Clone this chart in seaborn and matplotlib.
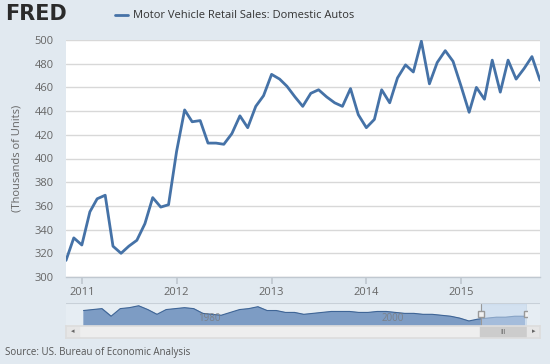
import numpy as np
import pandas as pd
import matplotlib
matplotlib.use("Agg")
import matplotlib.pyplot as plt
import matplotlib.dates as mdates
import seaborn as sns

# ---- data ----
start_month = "2010-11-01"
sales = [314, 333, 327, 355, 366, 369, 326, 320, 326, 331, 345, 367, 359, 361,
         406, 441, 431, 432, 413, 413, 412, 421, 436, 426, 444, 453,
         471, 467, 461, 452, 444, 455, 458, 452, 447, 444, 459, 437,
         426, 433, 458, 447, 468, 479, 473, 499, 463, 481, 491, 482,
         461, 439, 460, 450, 483, 456, 483, 467, 476, 486, 466]
year_ticks = ["2011", "2012", "2013", "2014", "2015"]
y_ticks = [300, 320, 340, 360, 380, 400, 420, 440, 460, 480, 500]

nav_years = list(range(1967, 2016))
nav_values = [690, 725, 760, 480, 760, 795, 865, 725, 550, 725, 760, 795, 760,
              585, 550, 515, 620, 725, 760, 830, 690, 690, 620, 620, 550, 585,
              620, 655, 655, 655, 620, 620, 655, 655, 620, 585, 585, 550, 550,
              515, 480, 410, 305, 375, 410, 445, 445, 480, 480]
nav_labels = ["1980", "2000"]

series_name = "Motor Vehicle Retail Sales: Domestic Autos"
ylabel = "(Thousands of Units)"
source = "Source: US. Bureau of Economic Analysis"

dates = pd.date_range(start_month, periods=len(sales), freq="MS")
df = pd.DataFrame({"date": dates, "sales": sales})
nav_df = pd.DataFrame({"date": pd.to_datetime([f"{y}-07-01" for y in nav_years]),
                       "value": nav_values})

# ---- style ----
sns.set_theme(style="white")
plt.rcParams["font.family"] = ["Open Sans", "DejaVu Sans"]
BG = "#e1e9f0"
LINE = "#4572a7"
TXT = "#666666"

fig = plt.figure(figsize=(5.5, 3.64), dpi=100, facecolor=BG)
W, H = 550, 364

def box(x0, y0, x1, y1):
    return [x0 / W, 1 - y1 / H, (x1 - x0) / W, (y1 - y0) / H]

# main axes
ax = fig.add_axes(box(66, 40, 540, 277))
ax.set_facecolor("white")
sns.lineplot(data=df, x="date", y="sales", ax=ax, color=LINE, linewidth=2.0)
ax.set_xlim(dates[0], dates[-1])
ax.set_ylim(300, 500)
ax.set_yticks(y_ticks)
ax.set_yticklabels([str(v) for v in y_ticks], fontsize=8, color=TXT)
ax.yaxis.grid(True, color="#d8d8d8", linewidth=1)
ax.set_axisbelow(True)
xt = pd.to_datetime([f"{y}-01-01" for y in year_ticks])
ax.set_xticks(xt)
ax.set_xticklabels(year_ticks, fontsize=8, color=TXT)
ax.tick_params(axis="x", length=5, color="#c0c8d0", pad=2, bottom=True)
ax.tick_params(axis="y", length=0, pad=9)
ax.set_xlabel("")
ax.set_ylabel("")
for s in ["top", "right", "left"]:
    ax.spines[s].set_visible(False)
ax.spines["bottom"].set_color("#c0c8d0")
ax.spines["bottom"].set_linewidth(1)
fig.text(17 / W, 1 - 158 / H, ylabel, rotation=90, ha="center", va="center",
         fontsize=8, color=TXT)

# header
fig.text(5 / W, 1 - 14 / H, "FRED", fontsize=15, fontweight="heavy",
         color="#2b2b2b", va="center", ha="left", family=["DejaVu Sans"])
fig.lines.append(plt.Line2D([115 / W, 128 / W], [1 - 15 / H, 1 - 15 / H],
                            color=LINE, linewidth=2, transform=fig.transFigure))
fig.text(133 / W, 1 - 15 / H, series_name, fontsize=8, color="#333333",
         va="center", ha="left")

# navigator background
nb = fig.add_axes(box(66, 303, 540, 326))
nb.set_facecolor("#e6edf3")
nb.set_xticks([]); nb.set_yticks([])
for s in nb.spines.values():
    s.set_visible(False)
nb.axhline(1, color="#c8d0d8", linewidth=1.5)
nb.set_ylim(0, 1)

# navigator
nav = fig.add_axes(box(79, 304, 527, 326))
nav.patch.set_alpha(0)
nav.fill_between(nav_df["date"], nav_df["value"], 0, color="#7d9cc4", alpha=1,
                 zorder=1)
sns.lineplot(data=nav_df, x="date", y="value", ax=nav, color="#3f6596",
             linewidth=0.8, zorder=2)
nav.set_xlim(nav_df["date"].iloc[0] - pd.Timedelta(days=180), dates[-1])
nav.set_ylim(120, 930)
nav.axvspan(dates[0], dates[-1], color="#c5d8ee", alpha=0.55, zorder=3)
for d in [dates[0], dates[-1]]:
    nav.axvline(d, color="#999999", linewidth=0.8, zorder=4)
    nav.plot([d], [560], marker="s", markersize=5, markerfacecolor="#f2f2f2",
             markeredgecolor="#999999", zorder=5)
for lab in nav_labels:
    nav.text(pd.Timestamp(f"{lab}-01-01"), 180, lab, fontsize=7, color="#7a7a7a",
             ha="left", va="bottom", alpha=0.8, zorder=4)
nav.set_xticks([]); nav.set_yticks([])
nav.set_xlabel(""); nav.set_ylabel("")
for s in nav.spines.values():
    s.set_visible(False)

# scrollbar
sb = fig.add_axes(box(66, 326, 540, 338))
sb.set_facecolor("#eeeeee")
sb.set_xlim(66, 540); sb.set_ylim(0, 1)
sb.axvspan(66, 79, color="#e6e6e6")
sb.axvspan(480, 527, color="#cccccc")
sb.axvspan(527, 540, color="#e6e6e6")
sb.text(72.5, 0.5, "◂", fontsize=5, color="#666666", ha="center", va="center")
sb.text(533.5, 0.5, "▸", fontsize=5, color="#666666", ha="center", va="center")
sb.text(503.5, 0.5, "III", fontsize=5, color="#666666", ha="center", va="center")
sb.set_xticks([]); sb.set_yticks([])
for s in sb.spines.values():
    s.set_color("#dddddd")

fig.text(5 / W, 1 - 352 / H, source, fontsize=7, color="#555555",
         va="center", ha="left")

fig.savefig("out.png", dpi=100, facecolor=BG)
